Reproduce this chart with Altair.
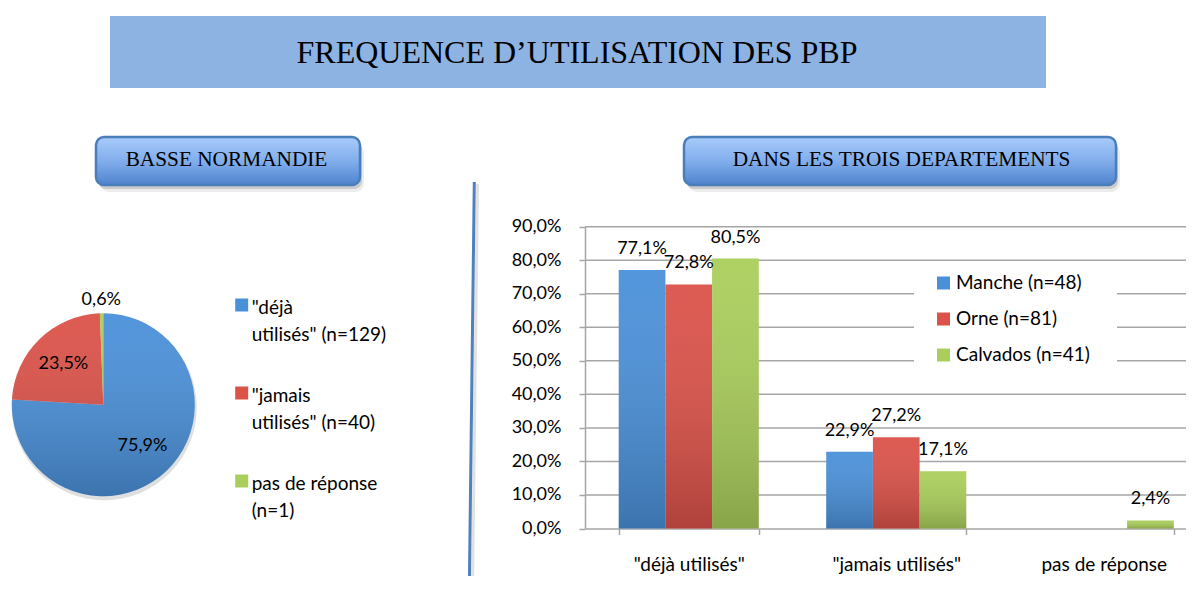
import math
import altair as alt
import pandas as pd

# ---------------- data ----------------
groups = ['"déjà utilisés"', '"jamais utilisés"', 'pas de réponse']
series = ['Manche (n=48)', 'Orne (n=81)', 'Calvados (n=41)']
manche = [77.1, 22.9, 0.0]
orne = [72.8, 27.2, 0.0]
calvados = [80.5, 17.1, 2.4]

pie_categories = ['"déjà utilisés" (n=129)', '"jamais utilisés" (n=40)', 'pas de réponse (n=1)']
pie_values = [75.9, 23.5, 0.6]
pie_legend_lines = [['"déjà', 'utilisés" (n=129)'],
                    ['"jamais', 'utilisés" (n=40)'],
                    ['pas de réponse', '(n=1)']]

y_ticks = [0, 10, 20, 30, 40, 50, 60, 70, 80, 90]

title_text = 'FREQUENCE D\u2019UTILISATION DES PBP'
left_title = 'BASSE NORMANDIE'
right_title = 'DANS LES TROIS DEPARTEMENTS'

# ---------------- style ----------------
W, H = 1178, 568
FONT = 'Lato'
SERIF = 'Liberation Serif'
colors = ['#4A90D9', '#DB5249', '#AACE5B']
GRID = '#A6A6A6'
Y0, Y90 = 520.5, 218.7
XAX = 577

dark_overlay = alt.LinearGradient(
    gradient='linear', x1=0, y1=0, x2=0, y2=1,
    stops=[alt.GradientStop(offset=0, color='rgba(255,255,255,0.05)'),
           alt.GradientStop(offset=1, color='rgba(0,0,0,0.20)')])
button_fill = alt.LinearGradient(
    gradient='linear', x1=0, y1=0, x2=0, y2=1,
    stops=[alt.GradientStop(offset=0, color='#A8CBFB'),
           alt.GradientStop(offset=0.5, color='#82AEEC'),
           alt.GradientStop(offset=1, color='#4E83CD')])

one = pd.DataFrame({'a': [0]})


def box(x1, y1, x2, y2, **kw):
    return alt.Chart(one).mark_rect(**kw).encode(
        x=alt.value(x1), x2=alt.value(x2), y=alt.value(y1), y2=alt.value(y2))


def label(txt, x, y, **kw):
    return alt.Chart(one).mark_text(text=txt, **kw).encode(x=alt.value(x), y=alt.value(y))


# ---------------- decorations ----------------
deco = [
    box(102, 8, 1038, 80, color='#8DB3E2'),
    label(title_text, 569, 45, font=SERIF, fontSize=32, color='black', baseline='middle', align='center'),
]
for (bx1, bx2, tx, txt) in [(88, 352, 218.5, left_title), (676, 1108, 893.5, right_title)]:
    deco += [
        box(bx1 + 4, 129 + 7, bx2 + 4, 177 + 7, color='#7F7F7F', opacity=0.15, cornerRadius=9),
        box(bx1 + 2, 129 + 4, bx2 + 2, 177 + 4, color='#7F7F7F', opacity=0.3, cornerRadius=8),
        box(bx1, 129, bx2, 177, fill=button_fill, stroke='#4A7EBB', strokeWidth=2.5, cornerRadius=8),
        label(txt, tx, 152, font=SERIF, fontSize=21.3, color='black', baseline='middle', align='center'),
    ]
deco += [
    alt.Chart(one).mark_rule(color='#9A9A9A', strokeWidth=3, opacity=0.3).encode(
        x=alt.value(469.5), x2=alt.value(464.5), y=alt.value(176), y2=alt.value(582)),
    alt.Chart(one).mark_rule(color='#4F81BD', strokeWidth=3).encode(
        x=alt.value(466.3), x2=alt.value(461.3), y=alt.value(174), y2=alt.value(582)),
]

# ---------------- pie ----------------
CX, CY, R = 95.3, 396.7, 91.5
pie_df = pd.DataFrame({
    'cat': pie_categories,
    'v': pie_values,
    'idx': list(range(len(pie_categories))),
    'legend': ['\n'.join(l) for l in pie_legend_lines],
})
pcolor = alt.Color('cat:N', scale=alt.Scale(domain=pie_categories, range=colors), legend=None)
ptheta = alt.Theta('v:Q', stack=True)
porder = alt.Order('idx:Q')
fmt = "replace(format(datum.v, '.1f'), '.', ',') + '%'"

pie_shadow = alt.Chart(one).mark_arc(theta=0, theta2=2 * math.pi, radius=R + 1, color='#808080', opacity=0.25).encode(
    x=alt.value(CX + 1), y=alt.value(CY + 3))
arcs = alt.Chart(pie_df).mark_arc(radius=R).encode(
    theta=ptheta, color=pcolor, order=porder, x=alt.value(CX), y=alt.value(CY))
pie_overlay = alt.Chart(one).mark_arc(theta=0, theta2=2 * math.pi, radius=R, fill=dark_overlay).encode(
    x=alt.value(CX), y=alt.value(CY))
inner_lbl = alt.Chart(pie_df).transform_calculate(
    lbl=f"datum.v >= 5 ? {fmt} : ''").mark_text(
    radius=57, font=FONT, fontSize=18, color='black').encode(
    theta=ptheta, order=porder, text='lbl:N', x=alt.value(CX), y=alt.value(CY))
outer_lbl = alt.Chart(pie_df).transform_calculate(
    lbl=f"datum.v < 5 ? {fmt} : ''").mark_text(
    radius=105, font=FONT, fontSize=18, color='black').encode(
    theta=ptheta, order=porder, text='lbl:N', x=alt.value(CX), y=alt.value(CY))

leg_y = alt.Y('cat:N', scale=alt.Scale(type='point', domain=pie_categories, range=[297, 473], padding=0), axis=None)
pie_leg_sq = alt.Chart(pie_df).mark_square(size=169, opacity=1).encode(
    x=alt.value(233.7), y=leg_y, color=pcolor)
pie_leg_txt = alt.Chart(pie_df).mark_text(
    align='left', baseline='middle', lineBreak='\n', lineHeight=27, font=FONT, fontSize=19,
    color='black', dy=3).encode(x=alt.value(243.7), y=leg_y, text='legend:N')

pie_layer = alt.layer(pie_shadow, arcs, pie_overlay, inner_lbl, outer_lbl, pie_leg_sq, pie_leg_txt)

# ---------------- bars ----------------
rows = []
for s, vals in zip(series, [manche, orne, calvados]):
    for g, v in zip(groups, vals):
        rows.append({'group': g, 'series': s, 'v': v})
bar_df = pd.DataFrame(rows)

xs = alt.Scale(domain=groups, range=[XAX, 1199.5], paddingInner=0.325, paddingOuter=0.1625)
ys = alt.Scale(domain=[0, 90], range=[Y0, Y90], nice=False, zero=True)
xo = alt.Scale(domain=series, paddingInner=0, paddingOuter=0)

yaxis = alt.Axis(orient='left', offset=-XAX, values=y_ticks, title=None, grid=False,
                 labelExpr="replace(format(datum.value, '.1f'), '.', ',') + '%'",
                 domainColor=GRID, domainWidth=1.5, tickColor=GRID, tickWidth=1.5, tickSize=6,
                 labelPadding=18, labelFont=FONT, labelFontSize=18, labelColor='black')
xaxis = alt.Axis(orient='bottom', offset=Y0 - H, title=None, grid=False, tickBand='extent',
                 domainColor=GRID, domainWidth=1.5, tickColor=GRID, tickWidth=1.5, tickSize=6,
                 labelPadding=21, labelFont=FONT, labelFontSize=19, labelColor='black', labelAngle=0)

X = alt.X('group:N', scale=xs, axis=xaxis)
XO = alt.XOffset('series:N', scale=xo)
Y = alt.Y('v:Q', scale=ys, axis=yaxis)

grid = alt.Chart(pd.DataFrame({'t': y_ticks[1:]})).mark_rule(color=GRID, strokeWidth=1.5).encode(
    y=alt.Y('t:Q', scale=ys, axis=yaxis), x=alt.value(XAX), x2=alt.value(W))
cover = box(906, 257, 1109, 364, color='white')
bars = alt.Chart(bar_df).mark_bar().encode(
    x=X, xOffset=XO, y=Y,
    color=alt.Color('series:N', scale=alt.Scale(domain=series, range=colors),
                    legend=alt.Legend(orient='none', legendX=926, legendY=265.5, title=None,
                                      symbolType='square', symbolSize=169, symbolStrokeWidth=0,
                                      symbolOpacity=1, labelFont=FONT, labelFontSize=19,
                                      labelColor='black', rowPadding=16, padding=0,
                                      labelOffset=3)))
bar_overlay = alt.Chart(bar_df).mark_bar(fill=dark_overlay).encode(x=X, xOffset=XO, y=Y)
bar_lbl = alt.Chart(bar_df).transform_filter('datum.v > 0').transform_calculate(
    lbl=fmt).mark_text(dy=-21, font=FONT, fontSize=18, color='black', baseline='middle').encode(
    x=X, xOffset=XO, y=Y, text='lbl:N')

bar_layer = alt.layer(grid, cover, bars, bar_overlay, bar_lbl)

chart = alt.layer(*deco, pie_layer, bar_layer).resolve_scale(
    x='independent', y='independent', color='independent'
).properties(
    width=W, height=H, autosize=alt.AutoSizeParams(type='none'), padding=0, background='white'
).configure(font=FONT).configure_view(stroke=None)

chart.save('out.html', embed_options={'renderer': 'svg', 'actions': False})
